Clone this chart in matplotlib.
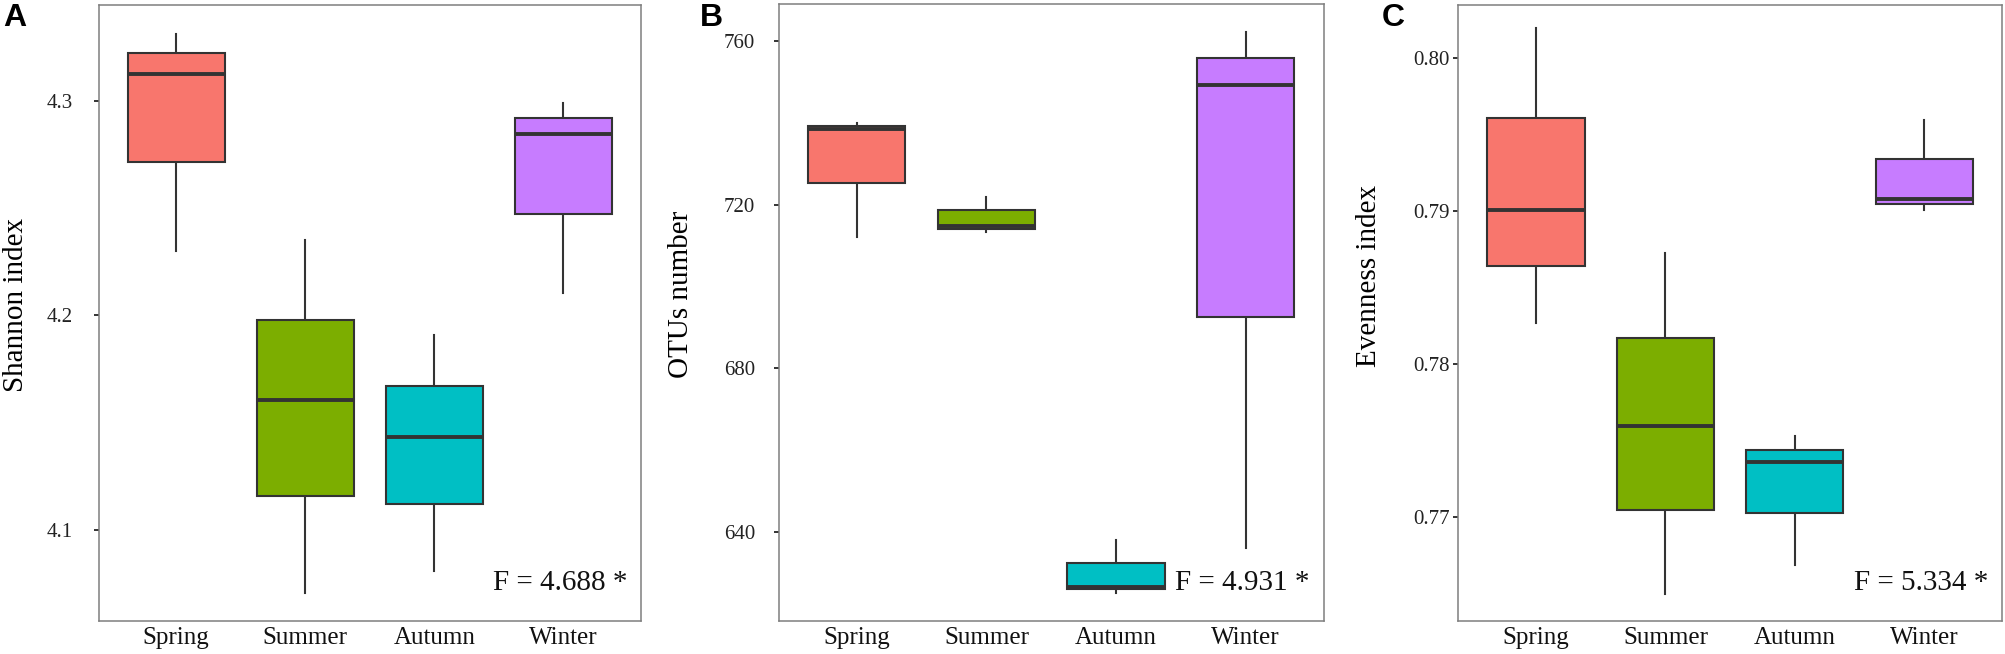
import matplotlib.pyplot as plt

plt.rcParams['font.family'] = ['Liberation Serif', 'DejaVu Serif']

seasons = ['Spring', 'Summer', 'Autumn', 'Winter']
colors = ['#F8766D', '#7CAE00', '#00BFC4', '#C77CFF']

# Shannon index (panel A)
shannon_upper = [4.331, 4.235, 4.191, 4.299]
shannon_q3 = [4.322, 4.198, 4.167, 4.292]
shannon_med = [4.3125, 4.1606, 4.1435, 4.2843]
shannon_q1 = [4.2713, 4.1156, 4.1122, 4.247]
shannon_lower = [4.230, 4.0707, 4.0806, 4.2102]

# OTUs number (panel B)
otus_upper = [740.0, 722.0, 638.0, 762.3]
otus_q3 = [739.3, 718.6, 632.4, 755.8]
otus_med = [738.4, 714.9, 626.6, 749.2]
otus_q1 = [725.2, 714.1, 626.1, 692.5]
otus_lower = [712.0, 713.3, 625.2, 636.2]

# Evenness index (panel C)
even_upper = [0.8020, 0.7873, 0.7753, 0.7960]
even_q3 = [0.7961, 0.7817, 0.7744, 0.7934]
even_med = [0.7901, 0.7760, 0.7736, 0.7908]
even_q1 = [0.7864, 0.7705, 0.7703, 0.7905]
even_lower = [0.7827, 0.7650, 0.7669, 0.7901]

panels = [
    dict(letter='A', ylabel='Shannon index', ftext='F = 4.688 *',
         stats=(shannon_lower, shannon_q1, shannon_med, shannon_q3, shannon_upper),
         ylim=(4.0573, 4.3446), ticks=[4.1, 4.2, 4.3], labels=['4.1', '4.2', '4.3'],
         rect=[0.0492, 0.0497, 0.2703, 0.9427], pad=15, ylab=(-0.1525, 0.513),
         lx=0.0017),
    dict(letter='B', ylabel='OTUs number', ftext='F = 4.931 *',
         stats=(otus_lower, otus_q1, otus_med, otus_q3, otus_upper),
         ylim=(618.2, 769.0), ticks=[640, 680, 720, 760], labels=['640', '680', '720', '760'],
         rect=[0.3883, 0.0497, 0.2715, 0.9440], pad=13.5, ylab=(-0.18, 0.53),
         lx=0.349),
    dict(letter='C', ylabel='Evenness index', ftext='F = 5.334 *',
         stats=(even_lower, even_q1, even_med, even_q3, even_upper),
         ylim=(0.7632, 0.8035), ticks=[0.77, 0.78, 0.79, 0.80],
         labels=['0.77', '0.78', '0.79', '0.80'],
         rect=[0.7270, 0.0497, 0.2710, 0.9430], pad=2.5, ylab=(-0.1635, 0.56),
         lx=0.689),
]

fig = plt.figure(figsize=(20.06, 6.54), dpi=100)

for p in panels:
    ax = fig.add_axes(p['rect'])
    lo, q1, med, q3, hi = p['stats']
    bstats = []
    for i in range(len(seasons)):
        bstats.append(dict(label=seasons[i], whislo=lo[i], q1=q1[i], med=med[i],
                           q3=q3[i], whishi=hi[i], fliers=[]))
    bp = ax.bxp(bstats, positions=[1, 2, 3, 4], widths=0.75, patch_artist=True,
                showcaps=False, showfliers=False,
                boxprops=dict(edgecolor='#333333', linewidth=1.5),
                whiskerprops=dict(color='#333333', linewidth=1.5),
                medianprops=dict(color='#333333', linewidth=2.8))
    for patch, c in zip(bp['boxes'], colors):
        patch.set_facecolor(c)
    for line in bp['whiskers']:
        line.set_zorder(1)

    ax.set_xlim(0.4, 4.6)
    ax.set_ylim(*p['ylim'])
    ax.set_yticks(p['ticks'])
    ax.set_yticklabels(p['labels'])
    ax.tick_params(axis='y', length=3.6, width=1.4, color='#333333', pad=p['pad'],
                   labelsize=15, labelcolor='#222222')
    ax.tick_params(axis='x', length=0, pad=4, labelsize=18, labelcolor='#111111')
    for s in ax.spines.values():
        s.set_color('#7f7f7f')
        s.set_linewidth(1.1)

    ax.set_ylabel(p['ylabel'], fontsize=21, rotation=90, ha='center', va='center',
                  rotation_mode='default')
    ax.yaxis.set_label_coords(*p['ylab'])

    ax.text(0.975, 0.051, p['ftext'], transform=ax.transAxes, ha='right',
            va='baseline', fontsize=21, color='#111111')

    fig.text(p['lx'], 0.995, p['letter'], ha='left', va='top', fontsize=23,
             fontweight='bold', family=['Liberation Sans', 'DejaVu Sans'])

fig.savefig('out.png', dpi=100)
